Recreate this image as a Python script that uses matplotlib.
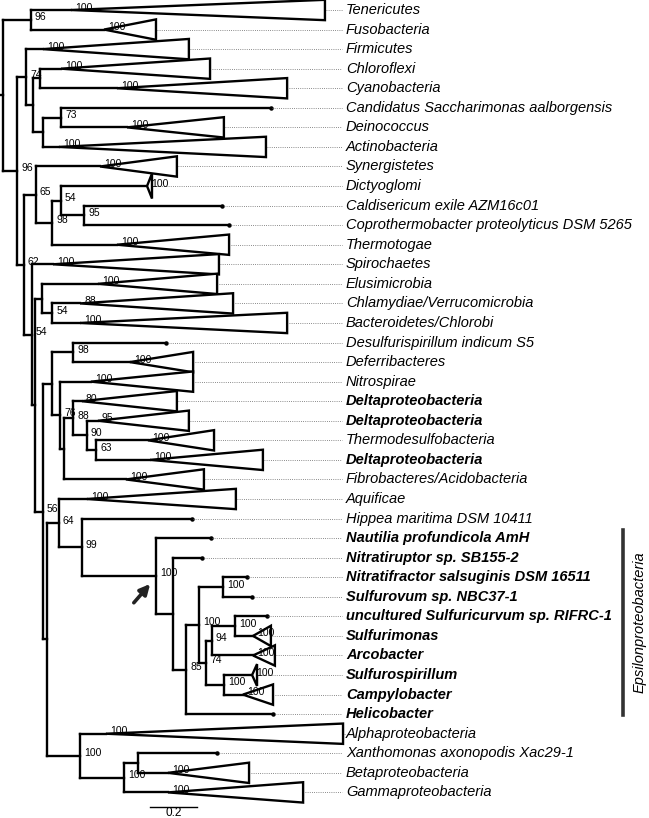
import matplotlib.pyplot as plt

plt.rcParams['font.family'] = ['Liberation Sans', 'DejaVu Sans']

# leaves, top to bottom
taxa = ['Tenericutes', 'Fusobacteria', 'Firmicutes', 'Chloroflexi', 'Cyanobacteria',
        'Candidatus Saccharimonas aalborgensis', 'Deinococcus', 'Actinobacteria',
        'Synergistetes', 'Dictyoglomi', 'Caldisericum exile AZM16c01',
        'Coprothermobacter proteolyticus DSM 5265', 'Thermotogae', 'Spirochaetes',
        'Elusimicrobia', 'Chlamydiae/Verrucomicrobia', 'Bacteroidetes/Chlorobi',
        'Desulfurispirillum indicum S5', 'Deferribacteres', 'Nitrospirae',
        'Deltaproteobacteria', 'Deltaproteobacteria', 'Thermodesulfobacteria',
        'Deltaproteobacteria', 'Fibrobacteres/Acidobacteria', 'Aquificae',
        'Hippea maritima DSM 10411', 'Nautilia profundicola AmH', 'Nitratiruptor sp. SB155-2',
        'Nitratifractor salsuginis DSM 16511', 'Sulfurovum sp. NBC37-1',
        'uncultured Sulfuricurvum sp. RIFRC-1', 'Sulfurimonas', 'Arcobacter',
        'Sulfurospirillum', 'Campylobacter', 'Helicobacter', 'Alphaproteobacteria',
        'Xanthomonas axonopodis Xac29-1', 'Betaproteobacteria', 'Gammaproteobacteria']
bold_rows = [20, 21, 23] + list(range(27, 37))
epsilon_rows = (27, 36)

leaf_parent = ['A', 'A', 'D', 'F', 'F', 'H', 'H', 'G', 'J', 'L', 'M', 'M', 'K', 'N',
               'P', 'Q', 'Q', 'T', 'T', 'U', 'W', 'X', 'Y', 'Y', 'V', 'AA', 'AB', 'AC',
               'AD', 'AG', 'AG', 'AI', 'AI', 'AJ', 'AK', 'AK', 'AE', 'BA', 'BC', 'BC', 'BB']
# tip (single sequence) or apex (collapsed clade) depth
leaf_depth = [0.289, 0.430, 0.170, 0.247, 0.485, 1.140, 0.528, 0.238, 0.413, 0.613,
              0.932, 0.962, 0.485, 0.213, 0.404, 0.328, 0.328, 0.694, 0.540, 0.374,
              0.336, 0.404, 0.617, 0.626, 0.523, 0.357, 0.804, 0.885, 0.847, 1.038,
              1.060, 1.123, 1.064, 1.064, 1.060, 1.021, 1.149, 0.438, 0.911, 0.702, 0.702]
# right edge of collapsed clades (None = single sequence)
clade_edge = [1.370, 0.651, 0.791, 0.881, 1.209, None, 0.940, 1.119, 0.740, 0.634,
              None, None, 0.962, 0.919, 0.911, 0.979, 1.209, None, 0.809, 0.809,
              0.740, 0.791, 0.898, 1.106, 0.855, 0.991, None, None, None, None,
              None, None, 1.140, 1.157, 1.081, 1.149, None, 1.447, None, 1.047, 1.277]
clade_half = {9: 0.64, 34: 0.56}
clade_support = [100, 100, 100, 100, 100, None, 100, 100, 100, 100, None, None, 100,
                 100, 100, 88, 100, None, 100, 100, 80, 95, 100, 100, 100, 100, None,
                 None, None, None, None, None, 100, 100, 100, 100, None, 100, None, 100, 100]

# internal nodes
node_names = ['root', 'A', 'C', 'D', 'E', 'F', 'G', 'H', 'I', 'J', 'K', 'L', 'M', 'N',
              'O', 'P', 'Q', 'R', 'S', 'T', 'U', 'V', 'W', 'X', 'Y', 'Z', 'AA', 'AB',
              'AC', 'AD', 'AE', 'AF', 'AG', 'AH', 'AI', 'AJ', 'AK', 'BA', 'BB', 'BC']
node_parent = [None, 'root', 'root', 'C', 'D', 'E', 'E', 'G', 'C', 'I', 'J', 'K', 'L',
               'I', 'N', 'O', 'P', 'O', 'R', 'S', 'S', 'U', 'V', 'W', 'X', 'R', 'Z',
               'AA', 'AB', 'AC', 'AD', 'AE', 'AF', 'AF', 'AJ', 'AH', 'AH', 'Z', 'BA', 'BB']
node_depth = [0.0, 0.119, 0.060, 0.098, 0.128, 0.157, 0.170, 0.247, 0.089, 0.140,
              0.209, 0.247, 0.345, 0.123, 0.136, 0.166, 0.209, 0.170, 0.209, 0.298,
              0.243, 0.260, 0.298, 0.357, 0.396, 0.187, 0.238, 0.336, 0.651, 0.723,
              0.779, 0.834, 0.936, 0.864, 0.987, 0.889, 0.940, 0.328, 0.515, 0.574]
node_support = [None, 96, 96, 74, None, None, None, 73, 62, 65, 98, 54, 95, 54, None,
                None, 54, 56, None, 98, 76, None, 88, 90, 63, None, 64, 99, 100, None,
                85, 100, 100, 74, 100, 94, 100, 100, 100, None]

# --- layout ---
depth = dict(zip(node_names, node_depth))
kids = {n: [] for n in node_names}
for i, p in enumerate(leaf_parent):
    kids[p].append(('leaf', i))
for n, p in zip(node_names, node_parent):
    if p is not None:
        kids[p].append(('node', n))

ypos = {}


def node_y(n):
    if n not in ypos:
        ys = [c[1] if c[0] == 'leaf' else node_y(c[1]) for c in kids[n]]
        ypos[n] = (min(ys) + max(ys)) / 2
    return ypos[n]


for n in node_names:
    node_y(n)

fig = plt.figure(figsize=(6.49, 8.18), dpi=100)
ax = fig.add_axes([0, 0, 1, 1])
px = 1 / 235.0          # one pixel in branch-length units
row_px = 19.56
ax.set_xlim(-3 * px, 646 * px)
ax.set_ylim((818 - 10) / row_px, -10 / row_px)
ax.axis('off')

lw = 1.7
label_x = 339 * px
off_x, off_y = 4 * px, -2.5 / row_px
sfont = 7.5

# branches
for n, p in zip(node_names, node_parent):
    ys = [c[1] if c[0] == 'leaf' else ypos[c[1]] for c in kids[n]]
    ax.plot([depth[n], depth[n]], [min(ys), max(ys)], color='black', lw=lw,
            solid_capstyle='projecting')
    if p is not None:
        ax.plot([depth[p], depth[n]], [ypos[n], ypos[n]], color='black', lw=lw,
                solid_capstyle='projecting')
    if node_support[node_names.index(n)] is not None:
        ax.text(depth[n] + off_x, ypos[n] + off_y, str(node_support[node_names.index(n)]),
                fontsize=sfont, ha='left', va='center')
ax.plot([-3 * px, 0], [ypos['root'], ypos['root']], color='black', lw=lw)

for i, name in enumerate(taxa):
    p = leaf_parent[i]
    x = leaf_depth[i]
    ax.plot([depth[p], x], [i, i], color='black', lw=lw, solid_capstyle='projecting')
    if clade_edge[i] is None:
        end = x
        ax.plot(x, i, 'o', color='black', ms=2.2)
    else:
        end = clade_edge[i]
        h = clade_half.get(i, 0.52)
        ax.fill([x, end, end], [i, i - h, i + h], facecolor='white', edgecolor='black',
                lw=lw, joinstyle='miter', zorder=3)
        ax.text(x + off_x, i + off_y, str(clade_support[i]), fontsize=sfont,
                ha='left', va='center', zorder=4)
    ax.plot([end + 1.5 * px, label_x], [i, i], color='#666666', lw=0.6,
            linestyle=(0, (1, 1.6)))
    ax.text(label_x + 4 * px, i, name, fontsize=10.5, style='italic',
            weight='bold' if i in bold_rows else 'normal', ha='left', va='center')

# Epsilonproteobacteria bracket
top = epsilon_rows[0] - 0.43
bot = epsilon_rows[1] + 0.04
ax.plot([620 * px, 620 * px], [top, bot], color='#333333', lw=2.6)
ax.text(637 * px, (top + bot) / 2, 'Epsilonproteobacteria', rotation=90, fontsize=10.5,
        style='italic', ha='center', va='center')

# arrow toward the Epsilonproteobacteria node
ac = (depth['AC'], ypos['AC'])
ax.annotate('', xy=(ac[0] - 4 * px, ac[1] + 6 / row_px),
            xytext=(ac[0] - 24 * px, ac[1] + 29 / row_px),
            arrowprops=dict(arrowstyle='-|>,head_length=0.6,head_width=0.3',
                            color='#222222', lw=2.6))

# scale bar
sb_x, sb_len = 147 * px, 0.2
sb_y = (807 - 10) / row_px
ax.plot([sb_x, sb_x + sb_len], [sb_y, sb_y], color='black', lw=1.0)
ax.text(sb_x + sb_len / 2, sb_y + 0.3, '0.2', fontsize=8.5, ha='center', va='center')

fig.savefig('out.png', dpi=100)
